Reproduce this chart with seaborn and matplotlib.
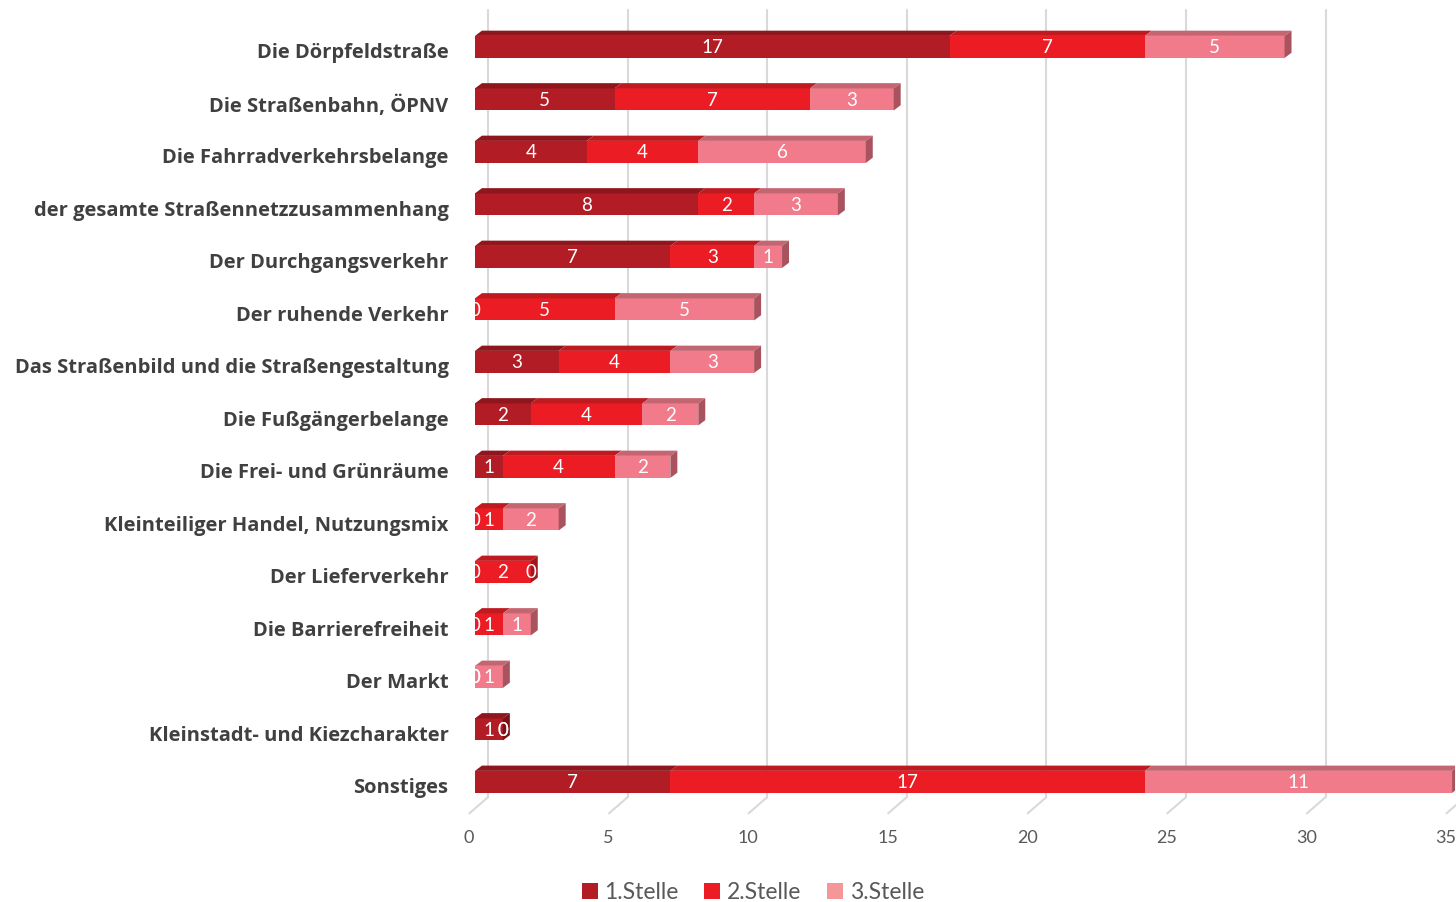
import numpy as np
import pandas as pd
import matplotlib
matplotlib.use("Agg")
import matplotlib.pyplot as plt
import matplotlib.transforms as mtransforms
from matplotlib.patches import Polygon, Patch
import seaborn as sns

# data
categories = [
    "Die Dörpfeldstraße",
    "Die Straßenbahn, ÖPNV",
    "Die Fahrradverkehrsbelange",
    "der gesamte Straßennetzzusammenhang",
    "Der Durchgangsverkehr",
    "Der ruhende Verkehr",
    "Das Straßenbild und die Straßengestaltung",
    "Die Fußgängerbelange",
    "Die Frei- und Grünräume",
    "Kleinteiliger Handel, Nutzungsmix",
    "Der Lieferverkehr",
    "Die Barrierefreiheit",
    "Der Markt",
    "Kleinstadt- und Kiezcharakter",
    "Sonstiges",
]
stelle1 = [17, 5, 4, 8, 7, 0, 3, 2, 1, 0, 0, 0, 0, 1, 7]
stelle2 = [7, 7, 4, 2, 3, 5, 4, 4, 4, 1, 2, 1, 0, 0, 17]
stelle3 = [5, 3, 6, 3, 1, 5, 3, 2, 2, 2, 0, 1, 1, 0, 11]
series_names = ["1.Stelle", "2.Stelle", "3.Stelle"]
x_ticks = [0, 5, 10, 15, 20, 25, 30, 35]

front_colors = ["#B21C24", "#EC1C24", "#F27B8B"]
top_colors = ["#8E161C", "#BF1A20", "#C46672"]
side_colors = ["#7A1318", "#A3161C", "#A9535E"]
legend_colors = ["#B21C24", "#EC1C24", "#F49799"]

df = pd.DataFrame({"cat": categories, "s1": stelle1, "s2": stelle2, "s3": stelle3})
df["c1"] = df["s1"]
df["c2"] = df["s1"] + df["s2"]
df["c3"] = df["c2"] + df["s3"]

sns.set_theme(style="white")
plt.rcParams["font.family"] = ["Lato", "DejaVu Sans"]

fig = plt.figure(figsize=(14.56, 9.02), dpi=100)
ax = fig.add_axes([0.3262, 0.0965, 0.673, 0.8925])

bar_h = 0.42
# draw totals first so the shorter cumulative bars sit on top (stack effect)
for col, color in zip(["c3", "c2", "c1"], front_colors[::-1]):
    sns.barplot(data=df, x=col, y="cat", order=categories, color=color,
                width=bar_h, orient="h", ax=ax, saturation=1, linewidth=0, zorder=3)

ax.set_xlim(0, 35.1)
ax.set_ylim(14.63, -0.705)

# fake 3D depth: top faces and right-side face
dx, dy = 0.25, 0.1
h = bar_h / 2
for i, row in df.iterrows():
    lefts = [0, row["c1"], row["c2"]]
    vals = [row["s1"], row["s2"], row["s3"]]
    last = None
    for k in range(3):
        if vals[k] <= 0:
            continue
        l, r = lefts[k], lefts[k] + vals[k]
        ax.add_patch(Polygon([(l, i - h), (r, i - h), (r + dx, i - h - dy), (l + dx, i - h - dy)],
                             closed=True, facecolor=top_colors[k], edgecolor="none", zorder=3))
        last = (r, k)
    if last is not None:
        r, k = last
        ax.add_patch(Polygon([(r, i - h), (r + dx, i - h - dy), (r + dx, i + h - dy), (r, i + h)],
                             closed=True, facecolor=side_colors[k], edgecolor="none", zorder=3))
    # data labels, zero values too (as in the original)
    for k in range(3):
        ax.text(lefts[k] + vals[k] / 2, i + 0.02, str(vals[k]), color="white",
                ha="center", va="center", fontsize=13.5, zorder=5, clip_on=True)

# back-wall gridlines with floor diagonals
grid_off = 0.47
for t in x_ticks:
    ax.plot([t + grid_off, t + grid_off], [-0.705, 14.29], color="#D9D9D9", lw=1.5, zorder=1,
            clip_on=False)
    ax.plot([t + grid_off, t - 0.2], [14.29, 14.6], color="#D9D9D9", lw=1.5, zorder=1,
            clip_on=False)

ax.set_xticks(x_ticks)
ax.set_xticklabels([str(t) for t in x_ticks], color="#595959", fontsize=13)
ax.tick_params(axis="x", length=0, pad=11)
ax.tick_params(axis="y", length=0, pad=19)
shift = mtransforms.ScaledTranslation(-6 / 100, 0, fig.dpi_scale_trans)
for lab in ax.get_xticklabels():
    lab.set_transform(lab.get_transform() + shift)
shift_y = mtransforms.ScaledTranslation(0, -4 / 100, fig.dpi_scale_trans)
for lab in ax.get_yticklabels():
    lab.set_fontfamily(["Open Sans", "DejaVu Sans"])
    lab.set_fontweight("bold")
    lab.set_fontsize(14.5)
    lab.set_color("#404040")
    lab.set_transform(lab.get_transform() + shift_y)
ax.set_xlabel("")
ax.set_ylabel("")
for s in ax.spines.values():
    s.set_visible(False)
ax.grid(False)

handles = [Patch(facecolor=c, edgecolor="none") for c in legend_colors]
fig.legend(handles, series_names, loc="center", bbox_to_anchor=(0.517, 0.011), ncol=3,
           frameon=False, fontsize=16.5, handlelength=0.7, handleheight=0.7,
           handletextpad=0.3, columnspacing=1.1, labelcolor="#595959")

fig.savefig("out.png", dpi=100)
